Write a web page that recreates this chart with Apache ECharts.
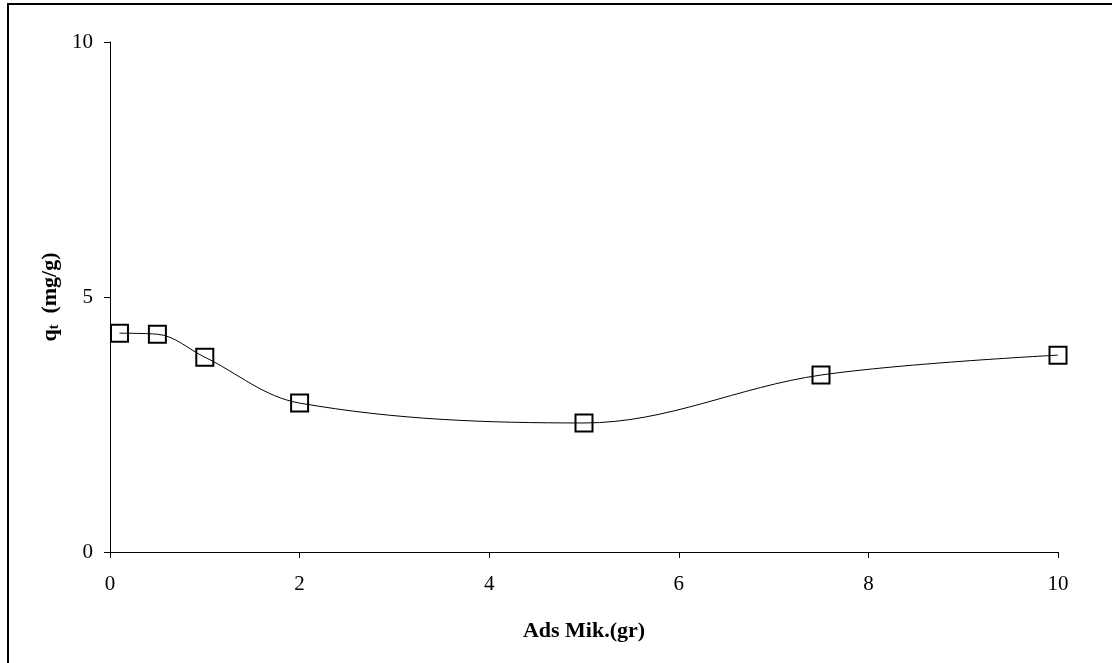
<!DOCTYPE html>
<html>
<head>
<meta charset="utf-8">
<style>
  html, body { margin: 0; padding: 0; background: #fff; }
  #chart { width: 1112px; height: 663px; }
</style>
<script src="https://cdn.jsdelivr.net/npm/echarts@6/dist/echarts.min.js"></script>
</head>
<body>
<div id="chart"></div>
<script>
// Adsorbent mass (gr) vs. adsorption capacity q_t (mg/g)
const adsMass = [0.1, 0.5, 1, 2, 5, 7.5, 10];
const qt = [4.29, 4.27, 3.82, 2.92, 2.53, 3.47, 3.86];

const serif = '"Liberation Serif", "Times New Roman", serif';
const chart = echarts.init(document.getElementById('chart'), null, { renderer: 'canvas' });

chart.setOption({
  backgroundColor: '#ffffff',
  animation: false,
  graphic: [
    {
      type: 'line',
      shape: { x1: 7, y1: 4, x2: 1112, y2: 4 },
      style: { stroke: '#000', lineWidth: 2 },
      silent: true
    },
    {
      type: 'line',
      shape: { x1: 8, y1: 3, x2: 8, y2: 663 },
      style: { stroke: '#000', lineWidth: 2 },
      silent: true
    }
  ],
  grid: { left: 110, right: 54, top: 42, bottom: 111 },
  xAxis: {
    type: 'value',
    min: 0, max: 10, interval: 2,
    name: 'Ads Mik.(gr)',
    nameLocation: 'middle',
    nameGap: 68,
    nameTextStyle: { fontFamily: serif, fontSize: 22, fontWeight: 'bold', color: '#000' },
    axisLine: { show: true, onZero: false, lineStyle: { color: '#000', width: 1 } },
    axisTick: { show: true, inside: false, length: 6, lineStyle: { color: '#000' } },
    axisLabel: { fontFamily: serif, fontSize: 21, color: '#000', margin: 22 },
    splitLine: { show: false }
  },
  yAxis: {
    type: 'value',
    min: 0, max: 10, interval: 5,
    name: '{q|q}{t|t}{q|  (mg/g)}',
    nameLocation: 'middle',
    nameGap: 42,
    nameRotate: 90,
    nameTextStyle: {
      fontFamily: serif, fontSize: 22, fontWeight: 'bold', color: '#000',
      rich: {
        q: { fontFamily: serif, fontSize: 22, fontWeight: 'bold', color: '#000' },
        t: { fontFamily: serif, fontSize: 14, fontWeight: 'bold', color: '#000', verticalAlign: 'bottom', padding: [8, 0, 0, 0] }
      }
    },
    axisLine: { show: true, onZero: false, lineStyle: { color: '#000', width: 1 } },
    axisTick: { show: true, inside: false, length: 6, lineStyle: { color: '#000' } },
    axisLabel: { fontFamily: serif, fontSize: 21, color: '#000', margin: 17 },
    splitLine: { show: false }
  },
  series: [{
    type: 'line',
    data: adsMass.map((x, i) => [x, qt[i]]),
    smooth: 0.35,
    symbol: 'rect',
    symbolSize: 17,
    showAllSymbol: true,
    lineStyle: { color: '#000', width: 1 },
    itemStyle: { color: 'rgba(0,0,0,0)', borderColor: '#000', borderWidth: 2 },
    z: 3
  }]
});
</script>
</body>
</html>
